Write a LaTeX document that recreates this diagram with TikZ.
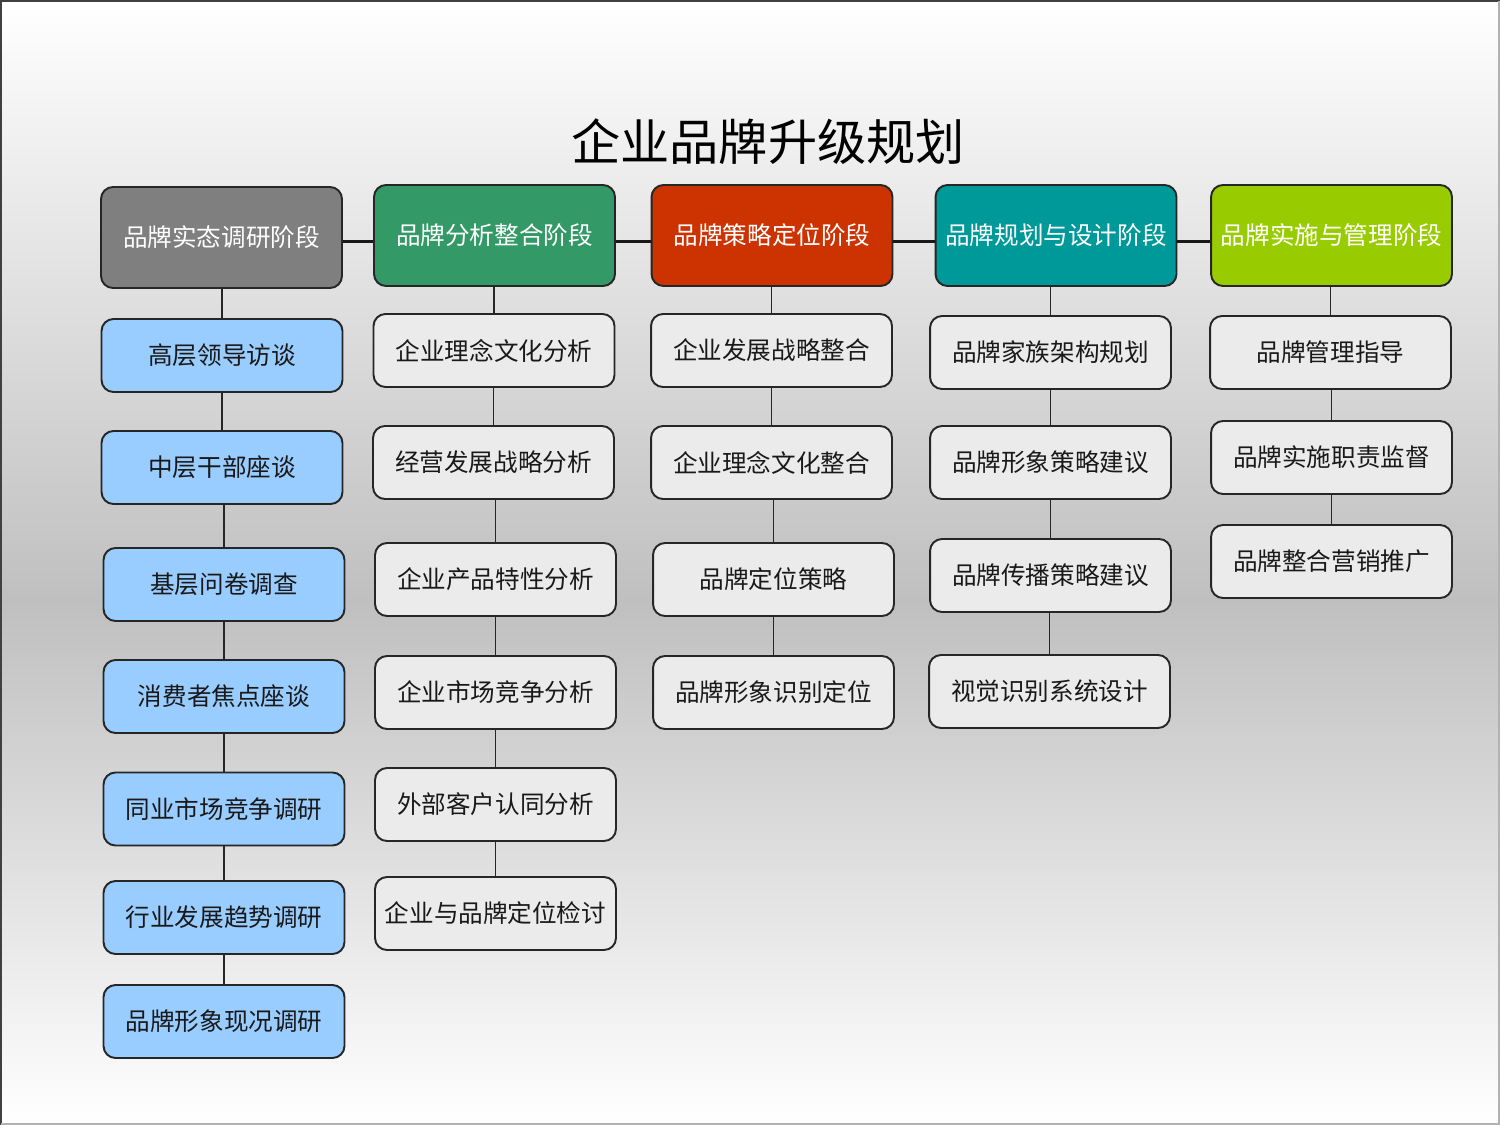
\documentclass[tikz,border=0pt]{standalone}
\usepackage{fontspec}
\setmainfont{Noto Sans CJK SC}
\begin{document}
\begin{tikzpicture}[x=0.02cm,y=-0.02cm,
  base/.style={rectangle, rounded corners=6.8pt, draw=black!85, line width=1.1pt,
     minimum width=4.82cm, inner sep=0pt, font=\fontsize{14}{16}\selectfont},
  hdr/.style={base, minimum height=2.02cm, text=white},
  sub/.style={base, minimum height=1.46cm, text=black!90},
  blue/.style={sub, fill=lblue},
  grey/.style={sub, fill=lgray},
  hline/.style={line width=1.8pt, draw=black!90},
  vline/.style={line width=0.9pt, draw=black!85}]
\definecolor{lblue}{HTML}{99CCFF}
\definecolor{lgray}{HTML}{EBEBEB}
\definecolor{hgray}{HTML}{7F7F7F}
\definecolor{hgreen}{HTML}{339966}
\definecolor{hred}{HTML}{CC3300}
\definecolor{hteal}{HTML}{009999}
\definecolor{hlime}{HTML}{99CC00}
\useasboundingbox (0,0) rectangle (1500,1125);
% background
\shade[top color=white, bottom color=black!25] (0,0) rectangle (1500,600);
\shade[top color=black!25, bottom color=white] (0,600) rectangle (1500,1125);
\draw[line width=1.2pt, black!75] (1,1125) -- (1,1) -- (1500,1);
\draw[line width=1.2pt, black!30] (1499,1) -- (1499,1124) -- (1,1124);
% title
\node (title) at (768,142) {\fontsize{28}{32}\selectfont 企业品牌升级规划};
% headers
\node[hdr, fill=hgray]  (h1) at (221.5,237.5) {品牌实态调研阶段};
\node[hdr, fill=hgreen] (h2) at (494.5,235.5) {品牌分析整合阶段};
\node[hdr, fill=hred]   (h3) at (772,235.5) {品牌策略定位阶段};
\node[hdr, fill=hteal]  (h4) at (1056,235.5) {品牌规划与设计阶段};
\node[hdr, fill=hlime]  (h5) at (1331.5,235.5) {品牌实施与管理阶段};
\foreach \p/\q in {h1/h2,h2/h3,h3/h4,h4/h5}
  \draw[hline] ([yshift=-3.4pt]\q.west -| \p.east) -- ([yshift=-3.4pt]\q.west);
% column 1
\node[blue] (a1) at (222,355.5) {高层领导访谈};
\node[blue] (a2) at (222,467.5) {中层干部座谈};
\node[blue] (a3) at (224,584.5) {基层问卷调查};
\node[blue] (a4) at (224,696.5) {消费者焦点座谈};
\node[blue] (a5) at (224,809) {同业市场竞争调研};
\node[blue] (a6) at (224,917.5) {行业发展趋势调研};
\node[blue] (a7) at (224,1021.5) {品牌形象现况调研};
% column 2
\node[grey] (b1) at (494,350.5) {企业理念文化分析};
\node[grey] (b2) at (493.5,462.5) {经营发展战略分析};
\node[grey] (b3) at (495.5,579.5) {企业产品特性分析};
\node[grey] (b4) at (495.5,692.5) {企业市场竞争分析};
\node[grey] (b5) at (495.5,804.5) {外部客户认同分析};
\node[grey] (b6) at (495.5,913.5) {企业与品牌定位检讨};
% column 3
\node[grey] (c1) at (771.5,350.5) {企业发展战略整合};
\node[grey] (c2) at (771.5,462.5) {企业理念文化整合};
\node[grey] (c3) at (773.5,579.5) {品牌定位策略};
\node[grey] (c4) at (773.5,692.5) {品牌形象识别定位};
% column 4
\node[grey] (d1) at (1050.5,352.5) {品牌家族架构规划};
\node[grey] (d2) at (1050.5,462.5) {品牌形象策略建议};
\node[grey] (d3) at (1050.5,575.5) {品牌传播策略建议};
\node[grey] (d4) at (1049.5,691.5) {视觉识别系统设计};
% column 5
\node[grey] (e1) at (1330.5,352.5) {品牌管理指导};
\node[grey] (e2) at (1331.5,457.5) {品牌实施职责监督};
\node[grey] (e3) at (1331.5,561.5) {品牌整合营销推广};
% vertical connectors
\foreach \u/\l in {h1/a1,a1/a2,a2/a3,a3/a4,a4/a5,a5/a6,a6/a7,
                   h2/b1,b1/b2,b2/b3,b3/b4,b4/b5,b5/b6,
                   h3/c1,c1/c2,c2/c3,c3/c4,
                   h4/d1,d1/d2,d2/d3,d3/d4,
                   h5/e1,e1/e2,e2/e3}
  \draw[vline] (\l.north) -- (\l.north |- \u.south);
\end{tikzpicture}
\end{document}
